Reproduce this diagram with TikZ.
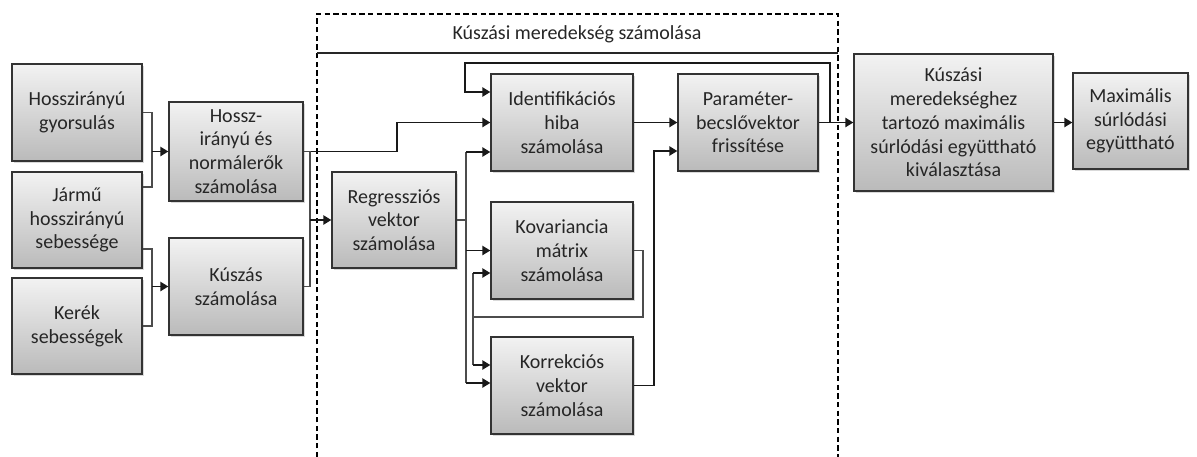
\documentclass[tikz,border=0pt]{standalone}
\usepackage{fontspec}
\setmainfont{Carlito}
\usetikzlibrary{arrows.meta,shadows}
\begin{document}
\begin{tikzpicture}[x=0.75pt,y=-0.75pt,
  txt/.style={text=black!85,font=\fontsize{15}{17.8}\selectfont},
  blk/.style={txt,draw=black!80,line width=1pt,top color=black!5,bottom color=black!27,
    drop shadow={shadow xshift=1.5pt,shadow yshift=-1.5pt,opacity=0.3},
    align=center,inner sep=0pt},
  sz/.style 2 args={minimum width=#1*0.75pt,minimum height=#2*0.75pt},
  wire/.style={draw=black!70,line width=1.1pt},
  arr/.style={draw=black!90,line width=1.1pt,-{Triangle[length=6pt,width=7pt]}},
  frame/.style={draw=black,line width=0.9pt,dash pattern=on 4pt off 2.5pt}]
\useasboundingbox (0,0) rectangle (1197,457);

% processing frame
\draw[frame] (317,457) -- (317,14) -- (838,14) -- (838,457);
\draw[black!85,line width=1pt] (317,53) -- (838,53);
\node[txt] (title) at (577,34) {Kúszási meredekség számolása};

% measured inputs
\node[blk,sz={130}{97}] (g1) at (77,112.5) {Hosszirányú\\gyorsulás};
\node[blk,sz={130}{96}] (g2) at (77,220) {Jármű\\hosszirányú\\sebessége};
\node[blk,sz={130}{96}] (g3) at (77,326) {Kerék\\sebességek};

% first stage
\node[blk,sz={134}{99}] (hn) at (236,151.5) {Hossz-\\irányú és\\normálerők\\számolása};
\node[blk,sz={134}{97}] (ksz) at (236,286.5) {Kúszás\\számolása};

% estimator blocks
\node[blk,sz={124}{96}] (reg) at (394,220) {Regressziós\\vektor\\számolása};
\node[blk,sz={142}{97}] (idf) at (562,122.5) {Identifikációs\\hiba\\számolása};
\node[blk,sz={142}{97}] (kov) at (562,250.5) {Kovariancia\\mátrix\\számolása};
\node[blk,sz={142}{97}] (kor) at (562,385.5) {Korrekciós\\vektor\\számolása};
\node[blk,sz={140}{97}] (par) at (748,122.5) {Paraméter-\\becslővektor\\frissítése};

% outputs
\node[blk,sz={199}{137}] (sel) at (953.5,122.5) {Kúszási\\meredekséghez\\tartozó maximális\\súrlódási együttható\\kiválasztása};
\node[blk,sz={115}{96}] (max) at (1130.5,121) {Maximális\\súrlódási\\együttható};

% junction points
\coordinate (ja) at (152,151.5);
\coordinate (jb) at (152,286.5);
\coordinate (jc) at (310,220);
\coordinate (jd) at (466,152);
\coordinate (je) at (466,250.5);
\coordinate (jf) at (466,383);
\coordinate (jg) at (473,273);
\coordinate (jh) at (473,365);
\coordinate (ji) at (830,122.5);

% input brackets
\draw[wire] (g1.east) -- (152,112.5) -- (152,187) -- (g2.east |- 0,187);
\draw[arr] (ja) -- (hn.west);
\draw[wire] (g2.east |- 0,249) -- (152,249) -- (152,326) -- (g3.east);
\draw[arr] (jb) -- (ksz.west);

% forces and slip to the estimator
\draw[arr] (hn.east) -- (397,151.5) |- (idf.west);
\draw[wire] (hn.east) -- (310,151.5) -- (310,286.5) -- (ksz.east);
\draw[arr] (jc) -- (reg.west);

% regression vector fan-out
\draw[wire] (reg.east) -- (466,220);
\draw[wire] (jd) -- (jf);
\draw[arr] (jd) -- (jd -| idf.west);
\draw[arr] (je) -- (kov.west);
\draw[arr] (jf) -- (jf -| kor.west);

% covariance loop
\draw[wire] (kov.east) -- (643,250.5) |- (473,317);
\draw[wire] (jg) -- (jh);
\draw[arr] (jg) -- (jg -| kov.west);
\draw[arr] (jh) -- (jh -| kor.west);

% correction vector to update
\draw[arr] (kor.east) -- (654,385.5) |- (par.west |- 0,151);
\draw[arr] (idf.east) -- (par.west);

% parameter vector out and fed back
\draw[arr] (par.east) -- (sel.west);
\draw[arr] (ji) -- (830,63) -- (465,63) |- (idf.west |- 0,92);
\draw[arr] (sel.east) -- (sel.east -| max.west);
\end{tikzpicture}
\end{document}
